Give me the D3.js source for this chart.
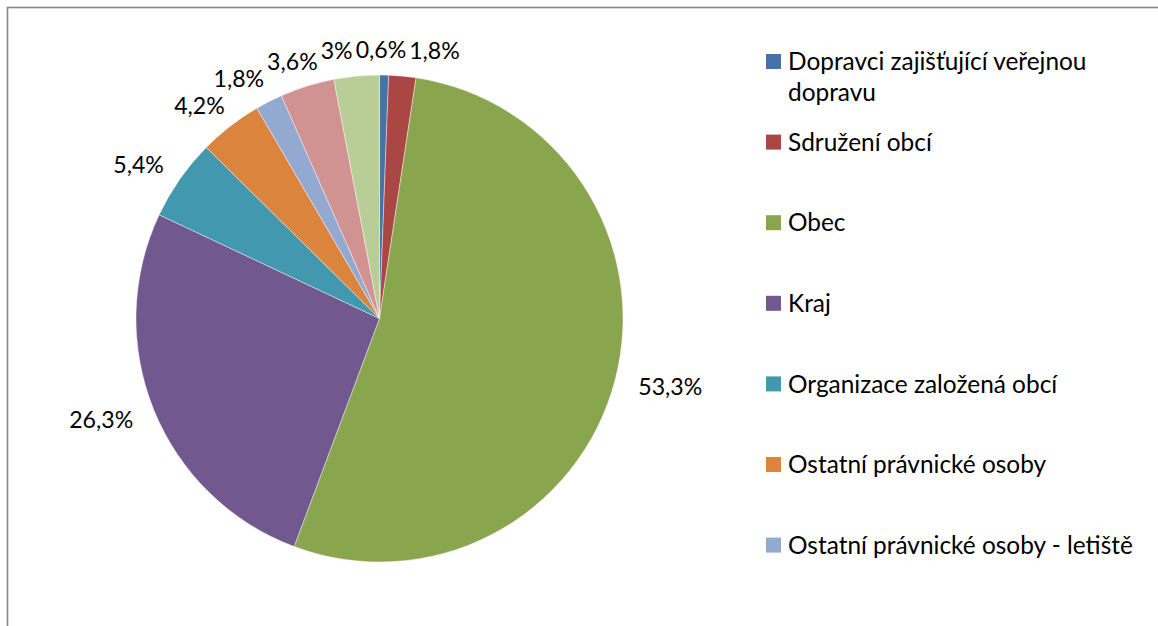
<!DOCTYPE html>
<html><head><meta charset="utf-8">
<script src="https://cdn.jsdelivr.net/npm/d3@7"></script>
<style>body{margin:0;background:#fff;} svg{display:block;}</style>
</head><body>
<svg id="chart" width="1158" height="626"></svg>
<script>
// ---- data ----
const categories = [
  "Dopravci zajišťující veřejnou dopravu",
  "Sdružení obcí",
  "Obec",
  "Kraj",
  "Organizace založená obcí",
  "Ostatní právnické osoby",
  "Ostatní právnické osoby - letiště",
  null, // legend entry cut off in the reference
  null  // legend entry cut off in the reference
];
const values = [0.6, 1.8, 53.3, 26.3, 5.4, 4.2, 1.8, 3.6, 3.0];
const colors = ["#4572A7","#AA4643","#89A54E","#71588F","#4198AF","#DB843D","#93A9CF","#D19392","#B9CD96"];

// ---- layout ----
const W = 1158, H = 626;
const cx = 379.5, cy = 318.5, R = 243.5;
const FONT = "Lato, 'Open Sans', sans-serif";
const svg = d3.select("#chart");

// frame (extends beyond the viewport on the right and bottom)
svg.append("rect").attr("x", 7.5).attr("y", 7.5).attr("width", 1170).attr("height", 640)
  .attr("fill", "#fff").attr("stroke", "#878787").attr("stroke-width", 1.6);

const fmt = v => String(v).replace(".", ",") + "%";

// fit a font size so that a sample string gets the target width
function fitSize(sample, target) {
  const t = svg.append("text").attr("font-family", FONT).attr("font-size", 20).text(sample);
  const w = t.node().getComputedTextLength();
  t.remove();
  return 20 * target / w;
}
const labelSize = fitSize("53,3%", 64);
const legendSize = fitSize("Ostatní právnické osoby - letiště", 345);

// ---- pie ----
const pie = d3.pie().sort(null).value(d => d).startAngle(0).endAngle(2 * Math.PI);
const arcs = pie(values);
const arc = d3.arc().innerRadius(0).outerRadius(R);
const g = svg.append("g").attr("transform", `translate(${cx},${cy})`);
g.selectAll("path").data(arcs).join("path")
  .attr("d", arc)
  .attr("fill", (d, i) => colors[i])
  .attr("stroke", "rgba(255,255,255,0.6)")
  .attr("stroke-width", 0.7);

// ---- data labels (outside end with simple collision relaxation) ----
const padX = 25, padY = 20;
const labelG = svg.append("g");
const labels = arcs.map((d, i) => {
  const a = (d.startAngle + d.endAngle) / 2;
  const s = Math.sin(a), c = Math.cos(a);
  const t = labelG.append("text").attr("font-family", FONT).attr("font-size", labelSize)
    .attr("fill", "#000").attr("text-anchor", "middle").attr("dy", "0.36em").text(fmt(values[i]));
  const w = t.node().getComputedTextLength();
  const h = labelSize * 0.8;
  const px = cx + (R + padX) * s, py = cy - (R + padY) * c;
  return { t, w, h, x: px + (w / 2) * s, y: py - (labelSize * 0.25) * c };
});
const gap = 3;
for (let it = 0; it < 300; it++) {
  let moved = false;
  for (let i = 0; i < labels.length; i++) {
    for (let j = i + 1; j < labels.length; j++) {
      const A = labels[i], B = labels[j];
      if (Math.abs(A.y - B.y) >= (A.h + B.h) / 2) continue;
      const need = (A.w + B.w) / 2 + gap;
      const dx = B.x - A.x;
      if (Math.abs(dx) < need) {
        const push = (need - Math.abs(dx)) / 2 + 0.01;
        const sgn = dx >= 0 ? 1 : -1;
        A.x -= sgn * push; B.x += sgn * push;
        moved = true;
      }
    }
  }
  if (!moved) break;
}
labels.forEach(L => L.t.attr("x", L.x).attr("y", L.y));

// ---- legend ----
const legX = 766, legY0 = 61.5, legStep = 80.6, sq = 15, textX = 788, maxTextW = 352;
const legendItems = categories.map((name, i) => ({ name, i })).filter(d => d.name !== null);
const lg = svg.append("g");
legendItems.forEach((d, k) => {
  const yc = legY0 + k * legStep;
  lg.append("rect").attr("x", legX).attr("y", yc - sq / 2).attr("width", sq).attr("height", sq)
    .attr("fill", colors[d.i]);
  const text = lg.append("text").attr("font-family", FONT).attr("font-size", legendSize)
    .attr("fill", "#000").attr("x", textX).attr("y", yc);
  // word wrap
  const words = d.name.split(" ");
  let line = [];
  let tspan = text.append("tspan").attr("x", textX).attr("dy", "0.36em");
  words.forEach(wd => {
    line.push(wd);
    tspan.text(line.join(" "));
    if (tspan.node().getComputedTextLength() > maxTextW && line.length > 1) {
      line.pop();
      tspan.text(line.join(" "));
      line = [wd];
      tspan = text.append("tspan").attr("x", textX).attr("dy", legendSize * 1.25).text(wd);
    }
  });
});
</script>
</body></html>
